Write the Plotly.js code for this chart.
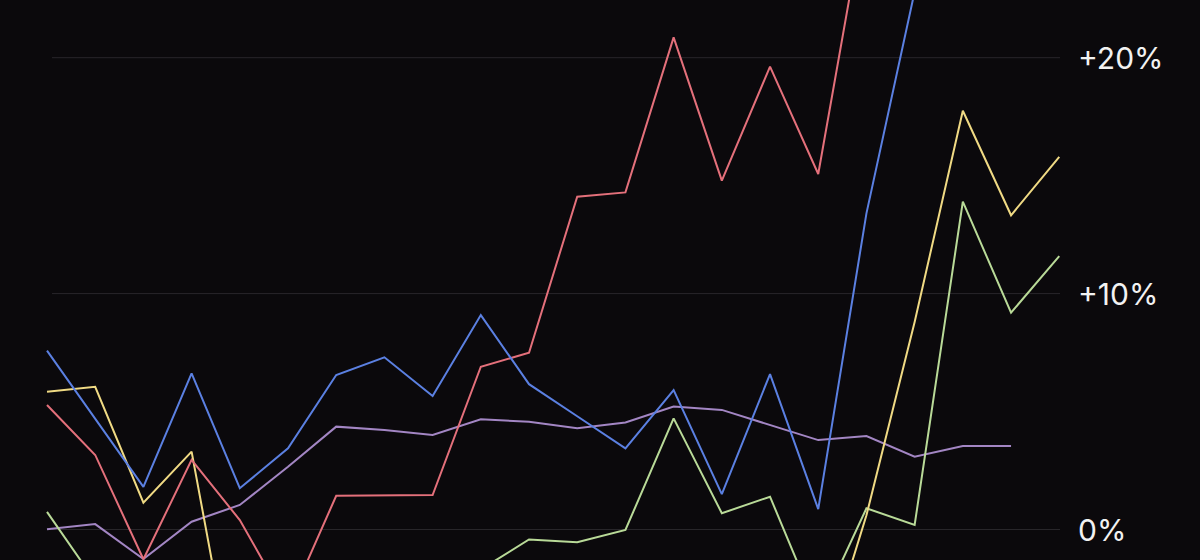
<!DOCTYPE html>
<html>
<head>
<meta charset="utf-8">
<script src="https://cdn.plot.ly/plotly-3.0.1.min.js"></script>
<style>
  html, body { margin: 0; padding: 0; background: #0b090c; }
  #chart { width: 1200px; height: 560px; }
</style>
</head>
<body>
<div id="chart"></div>
<script>
// x positions: one per period
const periods = [0,1,2,3,4,5,6,7,8,9,10,11,12,13,14,15,16,17,18,19,20,21];

// series values (% change); values outside the visible window are estimates of clipped segments
const blueSeries   = [7.58, 4.70, 1.81, 6.62, 1.75, 3.44, 6.55, 7.30, 5.66, 9.09, 6.16, 4.80, 3.44, 5.91, 1.50, 6.59, 0.86, 13.4, 22.8, 27.0, 29.0, 28.0];
const redSeries    = [5.28, 3.16, -1.26, 2.95, 0.40, -3.20, 1.43, 1.44, 1.46, 6.90, 7.49, 14.11, 14.29, 20.86, 14.79, 19.62, 15.07, 26.6, 30.0, 32.0, 31.0, 33.0];
const yellowSeries = [5.84, 6.05, 1.14, 3.30, -7.7, -7.2, -6.8, -6.5, -6.2, -6.6, -6.0, -6.4, -5.8, -5.5, -6.1, -5.9, -6.0, 0.60, 8.80, 17.75, 13.32, 15.80];
const greenSeries  = [0.75, -2.2, -4.5, -3.8, -5.2, -4.6, -4.0, -3.3, -2.6, -1.70, -0.42, -0.54, -0.02, 4.71, 0.69, 1.39, -3.5, 0.90, 0.19, 13.90, 9.19, 11.59];
const purpleSeries = [0.01, 0.23, -1.25, 0.33, 1.04, 2.66, 4.36, 4.22, 4.01, 4.67, 4.57, 4.29, 4.54, 5.21, 5.07, 4.43, 3.79, 3.96, 3.09, 3.54, 3.54];

// axis tick labels
const tickValues = [0, 10, 20];
const tickLabels = ['0%', '+10%', '+20%'];

const colors = {
  blue: '#5b80e2',
  red: '#e4707b',
  yellow: '#f0da84',
  green: '#b9da98',
  purple: '#a386c4'
};

function line(y, color) {
  return {
    x: periods.slice(0, y.length),
    y: y,
    type: 'scatter',
    mode: 'lines',
    line: { color: color, width: 2 },
    hoverinfo: 'skip',
    showlegend: false
  };
}

const data = [
  line(purpleSeries, colors.purple),
  line(greenSeries, colors.green),
  line(yellowSeries, colors.yellow),
  line(redSeries, colors.red),
  line(blueSeries, colors.blue)
];

const shapes = tickValues.map(v => ({
  type: 'line', xref: 'paper', yref: 'y',
  x0: 52 / 1200, x1: 1060 / 1200, y0: v, y1: v,
  line: { color: '#28262a', width: 1 },
  layer: 'below'
}));

const annotations = tickValues.map((v, i) => ({
  xref: 'paper', yref: 'y',
  x: 1076 / 1200, y: v,
  xanchor: 'left', yanchor: 'middle',
  text: tickLabels[i],
  showarrow: false,
  font: { family: 'Inter, "Open Sans", sans-serif', size: 30, color: '#f2f2f2' }
}));

const layout = {
  width: 1200, height: 560,
  margin: { l: 0, r: 0, t: 0, b: 0 },
  paper_bgcolor: '#0b090c',
  plot_bgcolor: '#0b090c',
  xaxis: { range: [-0.975, 23.92], visible: false, showgrid: false, zeroline: false, fixedrange: true },
  yaxis: { range: [-1.293, 22.446], visible: false, showgrid: false, zeroline: false, fixedrange: true },
  shapes: shapes,
  annotations: annotations,
  showlegend: false
};

Plotly.newPlot('chart', data, layout, { displayModeBar: false, staticPlot: true });
</script>
</body>
</html>
